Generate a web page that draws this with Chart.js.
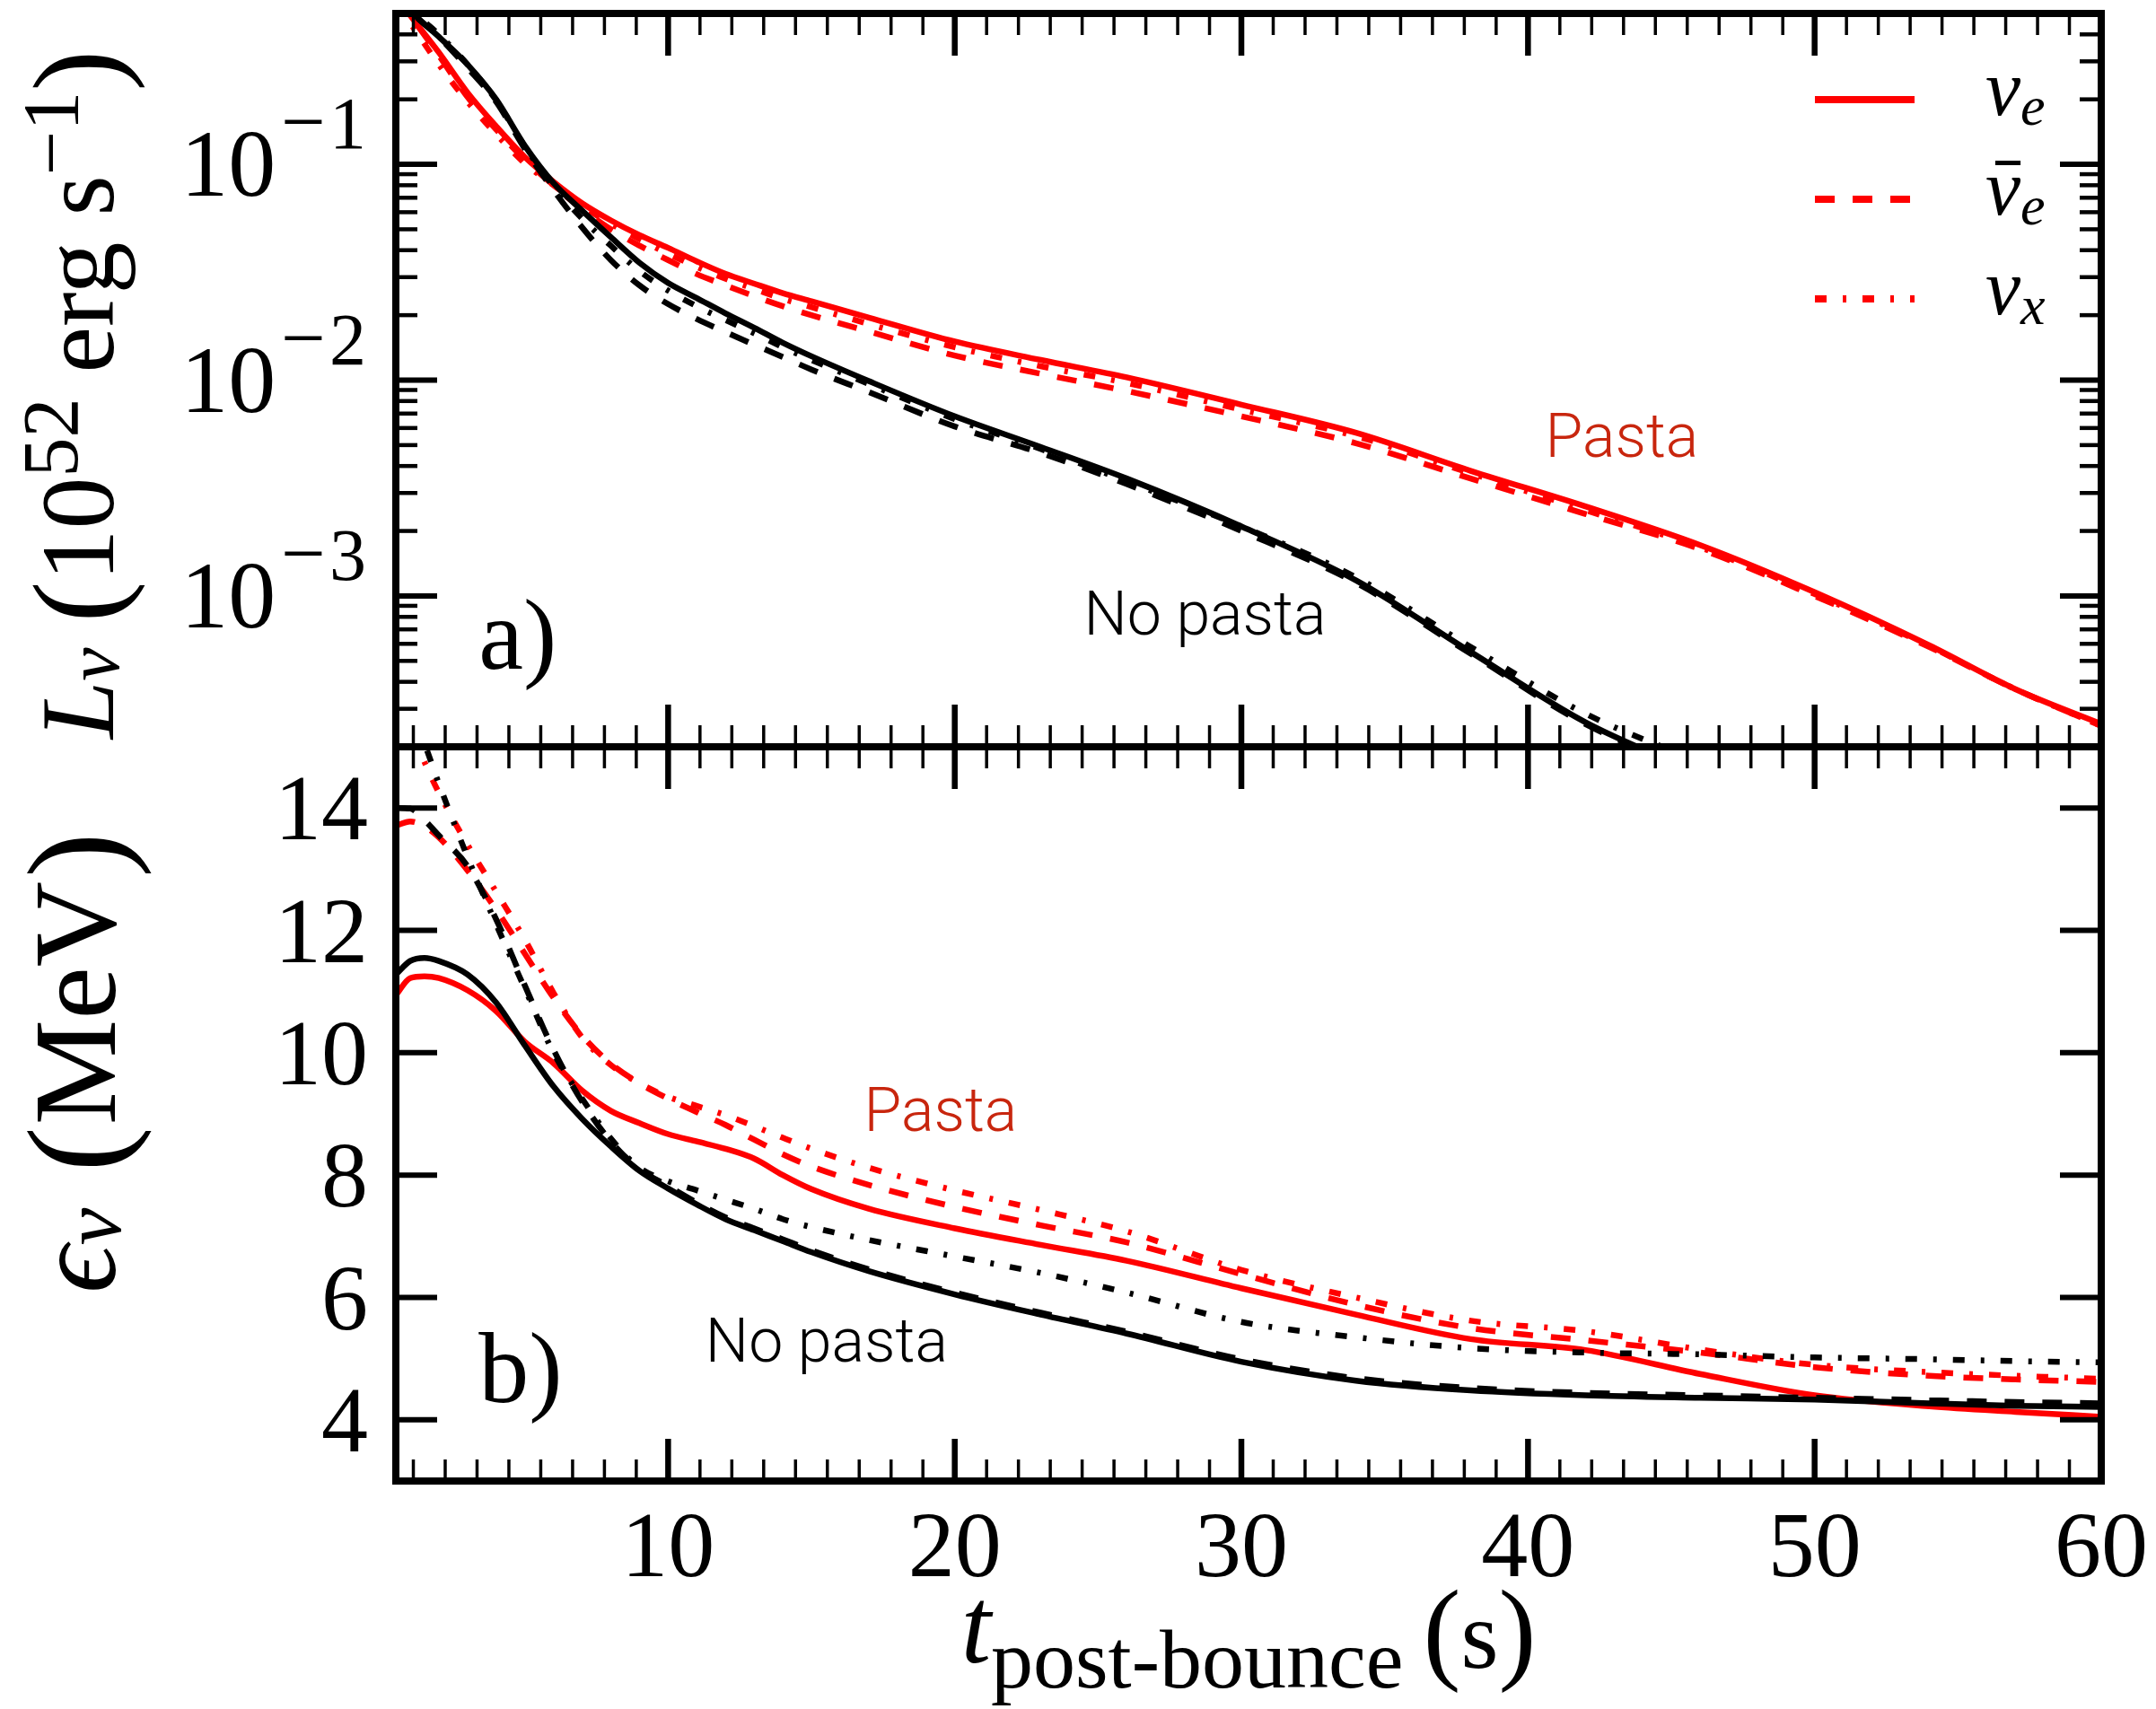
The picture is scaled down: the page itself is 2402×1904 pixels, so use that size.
<!DOCTYPE html>
<html><head><meta charset="utf-8">
<script src="https://cdn.jsdelivr.net/npm/chart.js@4/dist/chart.umd.min.js"></script>
<style>
html,body{margin:0;padding:0;background:#fff;}
#wrap{position:relative;width:2402px;height:1904px;background:#fff;}
canvas{position:absolute;left:0;top:0;}
</style></head><body>
<div id="wrap"><canvas id="cE" width="2402" height="1904"></canvas><canvas id="cL" width="2402" height="1904"></canvas></div>
<script>
// ---------- data: panel a) luminosities (10^52 erg/s) ----------
const tL = [0.5,1,2,3,4,5,6,7,8,9,10,11,12,13,14,15,17,20,23,26,30,34,38,42,46,50,54,57,60];
const L_nue_pasta    = [0.6,0.49,0.33,0.215,0.150,0.108,0.083,0.066,0.055,0.047,0.041,0.0355,0.0311,0.028,0.0253,0.0232,0.0195,0.0151,0.0124,0.0103,0.0077,0.0057,0.0038,0.0026,0.00172,0.00104,0.00059,0.00037,0.000255];
const L_nuebar_pasta = [0.6,0.49,0.32,0.205,0.145,0.105,0.080,0.062,0.050,0.042,0.036,0.031,0.0275,0.0245,0.022,0.0200,0.0168,0.0130,0.0107,0.0089,0.0068,0.0051,0.0035,0.0024,0.00165,0.00100,0.00058,0.00037,0.00025];
const L_nux_pasta    = [0.55,0.45,0.29,0.195,0.138,0.101,0.080,0.064,0.053,0.045,0.0385,0.0335,0.0295,0.0265,0.0238,0.0218,0.0182,0.0142,0.0116,0.0097,0.0073,0.0055,0.0037,0.0025,0.00168,0.00102,0.000585,0.00037,0.00025];
const L_nue_nopasta    = [0.66,0.52,0.39,0.29,0.20,0.122,0.082,0.061,0.046,0.035,0.0282,0.0240,0.0204,0.0175,0.0149,0.0129,0.0099,0.0068,0.0049,0.0035,0.0021,0.00118,0.00055,0.00026,0.00015,null,null,null,null];
const L_nuebar_nopasta = [0.66,0.52,0.39,0.28,0.195,0.118,0.076,0.051,0.036,0.0275,0.0225,0.0192,0.0167,0.0146,0.0128,0.0112,0.0088,0.0061,0.0046,0.0033,0.0020,0.00115,0.00054,0.000255,0.00015,null,null,null,null];
const L_nux_nopasta    = [0.66,0.53,0.40,0.29,0.198,0.121,0.079,0.056,0.042,0.032,0.026,0.022,0.019,0.0165,0.0142,0.0124,0.0096,0.0066,0.0048,0.0034,0.0021,0.00122,0.00058,0.000285,0.00017,null,null,null,null];

// ---------- data: panel b) mean energies (MeV) ----------
const tE = [0.5,1,1.5,2,3,4,5,6,7,8,9,10,11,12,13,14,15,17,20,23,26,30,34,38,42,46,50,54,57,60];
const E_nue_pasta    = [10.94,11.22,11.25,11.22,11.02,10.68,10.18,9.83,9.38,9.05,8.85,8.67,8.55,8.43,8.27,8.0,7.77,7.45,7.13,6.86,6.6,6.15,5.72,5.32,5.14,4.75,4.40,4.22,4.13,4.05];
const E_nuebar_pasta = [13.71,13.78,13.7,13.52,12.98,12.34,11.62,10.9,10.28,9.82,9.5,9.25,9.03,8.82,8.58,8.34,8.14,7.84,7.48,7.18,6.9,6.38,5.88,5.5,5.3,5.1,4.86,4.72,4.66,4.62];
const E_nux_pasta    = [15.9,15.3,14.75,14.25,13.4,12.63,11.85,10.98,10.25,9.8,9.5,9.28,9.13,8.98,8.8,8.61,8.43,8.12,7.75,7.43,7.08,6.45,6.0,5.62,5.45,5.15,4.9,4.78,4.72,4.67];
const E_nue_nopasta    = [11.28,11.5,11.55,11.5,11.28,10.82,10.12,9.45,8.92,8.47,8.07,7.78,7.52,7.28,7.1,6.92,6.74,6.43,6.05,5.72,5.41,4.95,4.64,4.48,4.40,4.36,4.33,4.27,4.23,4.21];
const E_nuebar_nopasta = [14.0,13.99,13.8,13.55,13.05,12.18,11.1,10.05,9.2,8.55,8.1,7.82,7.55,7.31,7.13,6.95,6.77,6.46,6.08,5.75,5.44,4.99,4.68,4.52,4.44,4.40,4.36,4.32,4.29,4.27];
const E_nux_nopasta    = [16.4,15.6,15.05,14.4,13.2,12.1,11.05,10.0,9.25,8.6,8.12,7.9,7.75,7.6,7.45,7.28,7.15,6.94,6.67,6.4,6.08,5.6,5.35,5.17,5.1,5.07,5.02,4.99,4.96,4.94];

// ---------- ticks / labels ----------
const xTickLabels = [10,20,30,40,50,60];
const eTickLabels = [4,6,8,10,12,14];
const lMajorTicks = [1e-3,1e-2,1e-1];
const lMajorExp = ['3','2','1'];
const lMinorTicks = [2e-4,3e-4,4e-4,5e-4,6e-4,7e-4,8e-4,9e-4,2e-3,3e-3,4e-3,5e-3,6e-3,7e-3,8e-3,9e-3,2e-2,3e-2,4e-2,5e-2,6e-2,7e-2,8e-2,9e-2,0.2,0.3,0.4,0.5];
const legendLabels = [{nu:'\u03bd', sub:'e', bar:false},{nu:'\u03bd', sub:'e', bar:true},{nu:'\u03bd', sub:'x', bar:false}];
const annotL = [{text:'Pasta', t:40.6, v:0.0044, color:'#c8260e'},{text:'No pasta', t:24.5, v:6.6e-4, color:'#000'}];
const annotE = [{text:'Pasta', t:16.83, v:8.72, color:'#c8260e'},{text:'No pasta', t:11.3, v:4.95, color:'#000'}];

const SERIF = '"Liberation Serif", "DejaVu Serif", serif';
const SANS = 'Roboto, "Liberation Sans", sans-serif';
const RED = '#ff0000', BLACK = '#000000';
const DASH = [22,20], DASHDOT = [13,18,4,18];
const xMinorTicks = [];
for (let d = 0; d < 60; d += 10) for (let k = 1; k <= 8; k++) xMinorTicks.push(d + k*10/9);

function pts(t, arr){ return t.map((x,i)=>({x:x, y:arr[i]})); }
function ds(t, arr, color, dash){ return {data:pts(t,arr), borderColor:color, borderDash:dash, borderWidth:6.5, pointRadius:0, fill:false, cubicInterpolationMode:'monotone', spanGaps:false}; }

function seg(ctx,x1,y1,x2,y2,w){ ctx.lineWidth=w; ctx.beginPath(); ctx.moveTo(x1,y1); ctx.lineTo(x2,y2); ctx.stroke(); }
function drawRich(ctx, parts, x, y, align){
  let w = 0;
  parts.forEach(p=>{ ctx.font=p.font; w += ctx.measureText(p.text).width + (p.gap||0); });
  let cx = align==='center' ? x-w/2 : (align==='right' ? x-w : x);
  ctx.textAlign='left'; ctx.textBaseline='alphabetic';
  parts.forEach(p=>{
    ctx.font=p.font; const tw = ctx.measureText(p.text).width;
    ctx.fillText(p.text, cx, y+(p.dy||0));
    if (p.bar) { ctx.fillRect(cx + tw*0.28, y+(p.dy||0) - p.bar, tw*0.72, 5); }
    cx += tw + (p.gap||0);
  });
}
function frameTicks(chart, yMajor, yMinor){
  const {ctx, chartArea:a, scales:{x,y}} = chart;
  ctx.save(); ctx.strokeStyle='#000'; ctx.lineCap='butt';
  xMinorTicks.forEach(v=>{ const p=x.getPixelForValue(v); seg(ctx,p,a.bottom,p,a.bottom-24,3.5); seg(ctx,p,a.top,p,a.top+24,3.5); });
  xTickLabels.forEach(v=>{ const p=x.getPixelForValue(v); seg(ctx,p,a.bottom,p,a.bottom-47,6.5); seg(ctx,p,a.top,p,a.top+47,6.5); });
  yMinor.forEach(v=>{ const p=y.getPixelForValue(v); seg(ctx,a.left,p,a.left+24,p,4.5); seg(ctx,a.right,p,a.right-24,p,4.5); });
  yMajor.forEach(v=>{ const p=y.getPixelForValue(v); seg(ctx,a.left,p,a.left+46,p,6); seg(ctx,a.right,p,a.right-46,p,6); });
  ctx.lineWidth=8; ctx.strokeRect(a.left,a.top,a.right-a.left,a.bottom-a.top);
  ctx.restore();
}
function annotate(chart, list, panelLabel, plT, plV){
  const {ctx, scales:{x,y}} = chart;
  ctx.save(); ctx.textAlign='left'; ctx.textBaseline='alphabetic';
  list.forEach(o=>{ ctx.font=`300 68px ${SANS}`; ctx.fillStyle=o.color; ctx.fillText(o.text, x.getPixelForValue(o.t), y.getPixelForValue(o.v)); });
  ctx.fillStyle='#000'; ctx.font=`112px ${SERIF}`;
  ctx.fillText(panelLabel, x.getPixelForValue(plT), y.getPixelForValue(plV));
  ctx.restore();
}

const topPlugin = {
  id:'topDecor',
  afterDraw(chart){
    const {ctx, chartArea:a, scales:{x,y}} = chart;
    frameTicks(chart, lMajorTicks, lMinorTicks);
    ctx.save(); ctx.fillStyle='#000';
    // log tick labels
    lMajorTicks.forEach((v,i)=>{
      const p=y.getPixelForValue(v);
      drawRich(ctx,[
        {text:'10',font:`106px ${SERIF}`,gap:6},
        {text:'\u2212',font:`88px ${SERIF}`,dy:-53,gap:4},
        {text:lMajorExp[i],font:`82px ${SERIF}`,dy:-53}
      ], a.left-33, p+35, 'right');
    });
    // y title
    ctx.save(); ctx.translate(126, (a.top+a.bottom)/2 + 16); ctx.rotate(-Math.PI/2);
    drawRich(ctx,[
      {text:'L',font:`italic 116px ${SERIF}`},
      {text:'\u03bd',font:`italic 84px ${SERIF}`,dy:6,gap:28},
      {text:'(',font:`138px ${SERIF}`,dy:6},
      {text:'10',font:`116px ${SERIF}`},
      {text:'52',font:`88px ${SERIF}`,dy:-40,gap:28},
      {text:'erg s',font:`116px ${SERIF}`},
      {text:'\u22121',font:`88px ${SERIF}`,dy:-40},
      {text:')',font:`138px ${SERIF}`,dy:6}
    ],0,0,'center');
    ctx.restore();
    // legend
    const lx1=a.right-319, lx2=a.right-208, tx=a.right-129;
    const dashes=[[],DASH,DASHDOT];
    legendLabels.forEach((lab,i)=>{
      const ly=a.top+96+i*111;
      ctx.save(); ctx.strokeStyle=RED; ctx.setLineDash(dashes[i]); seg(ctx,lx1,ly,lx2,ly,8); ctx.restore();
      drawRich(ctx,[{text:lab.nu,font:`italic 88px ${SERIF}`,bar:lab.bar?60:0},{text:lab.sub,font:`italic 62px ${SERIF}`,dy:11}],tx,ly+17,'left');
    });
    ctx.restore();
    annotate(chart, annotL, 'a)', 3.39, 4.6e-4);
  }
};

const botPlugin = {
  id:'botDecor',
  afterDraw(chart){
    const {ctx, chartArea:a, scales:{x,y}} = chart;
    frameTicks(chart, eTickLabels, []);
    ctx.save(); ctx.fillStyle='#000'; ctx.font=`104px ${SERIF}`; ctx.textBaseline='alphabetic';
    ctx.textAlign='center';
    xTickLabels.forEach(v=>ctx.fillText(String(v), x.getPixelForValue(v), a.bottom+106));
    ctx.textAlign='right';
    eTickLabels.forEach(v=>ctx.fillText(String(v), a.left-31, y.getPixelForValue(v)+35));
    // x title
    drawRich(ctx,[
      {text:'t',font:`italic 120px ${SERIF}`},
      {text:'post-bounce',font:`94px ${SERIF}`,dy:28,gap:22},
      {text:'(',font:`126px ${SERIF}`,dy:7},
      {text:'s',font:`108px ${SERIF}`,dy:6},
      {text:')',font:`126px ${SERIF}`,dy:7}
    ],(a.left+a.right)/2, 1852, 'center');
    // y title
    ctx.save(); ctx.translate(128, a.top + 352); ctx.rotate(-Math.PI/2);
    drawRich(ctx,[
      {text:'\u03f5',font:`italic 132px ${SERIF}`},
      {text:'\u03bd',font:`italic 94px ${SERIF}`,dy:6,gap:40},
      {text:'(',font:`152px ${SERIF}`,dy:8,gap:2},
      {text:'MeV',font:`132px ${SERIF}`,gap:4},
      {text:')',font:`152px ${SERIF}`,dy:8}
    ],0,0,'center');
    ctx.restore();
    ctx.restore();
    annotate(chart, annotE, 'b)', 3.39, 4.29);
  }
};

const common = (pad, yScale) => ({
  responsive:false, animation:false, events:[],
  layout:{padding:pad},
  plugins:{legend:{display:false}, tooltip:{enabled:false}},
  scales:{ x:{type:'linear', min:0.5, max:60, display:false}, y:yScale }
});

new Chart(document.getElementById('cL'), {
  type:'line',
  data:{datasets:[
    ds(tL,L_nue_nopasta,BLACK,[]), ds(tL,L_nuebar_nopasta,BLACK,DASH), ds(tL,L_nux_nopasta,BLACK,DASHDOT),
    ds(tL,L_nue_pasta,RED,[]), ds(tL,L_nuebar_pasta,RED,DASH), ds(tL,L_nux_pasta,RED,DASHDOT)
  ]},
  options: common({left:441,right:61,top:15,bottom:1904-832}, {type:'logarithmic', min:2e-4, max:0.5, display:false}),
  plugins:[topPlugin]
});

new Chart(document.getElementById('cE'), {
  type:'line',
  data:{datasets:[
    ds(tE,E_nue_nopasta,BLACK,[]), ds(tE,E_nuebar_nopasta,BLACK,DASH), ds(tE,E_nux_nopasta,BLACK,DASHDOT),
    ds(tE,E_nue_pasta,RED,[]), ds(tE,E_nuebar_pasta,RED,DASH), ds(tE,E_nux_pasta,RED,DASHDOT)
  ]},
  options: common({left:441,right:61,top:832,bottom:1904-1650}, {type:'linear', min:3, max:15, display:false}),
  plugins:[botPlugin]
});
</script>
</body></html>
